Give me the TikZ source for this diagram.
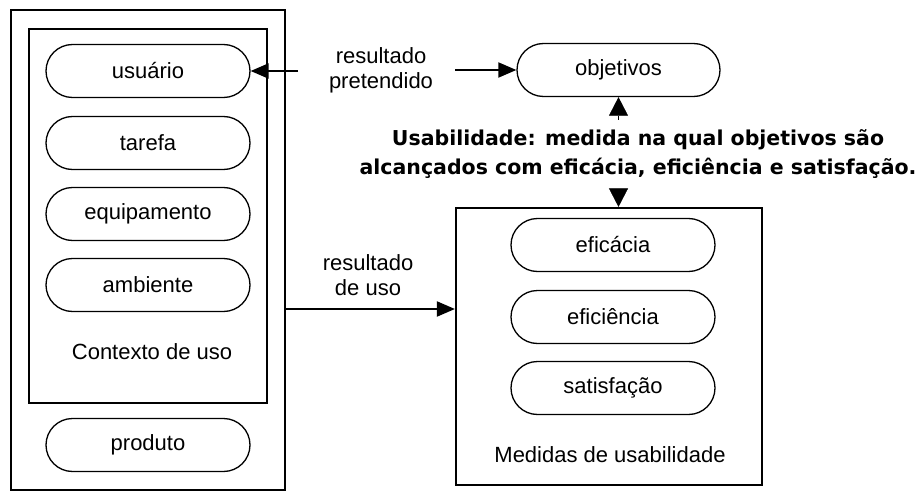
\documentclass[tikz,border=0pt]{standalone}
\usepackage{fontspec}
\setmainfont{Liberation Sans}
\newfontfamily\usabfont{DejaVu Sans}
\usetikzlibrary{arrows.meta}
\begin{document}
\begin{tikzpicture}[x=1pt,y=-1pt,
  box/.style={draw,line width=2.2pt,inner sep=0pt},
  pill/.style={draw,line width=1.3pt,rounded corners=26.5pt,minimum width=204pt,minimum height=53pt,inner sep=0pt,font=\fontsize{22}{25}\selectfont},
  lbl/.style={align=center,inner sep=0pt,font=\fontsize{22}{25}\selectfont},
  arr/.style={line width=2pt,-{Triangle[length=18pt,width=15pt]}},
  tri/.style={line width=0.5pt,-{Triangle[length=18.5pt,width=19pt]}}]
\useasboundingbox (0,0) rectangle (921,492);
% left boxes
\node[box,minimum width=274pt,minimum height=480pt] (outer) at (148,250) {};
\node[box,minimum width=238pt,minimum height=374pt] (inner) at (148,216) {};
\node[pill] (usu) at (148,71) {usuário};
\node[pill] (tar) at (148,143) {tarefa};
\node[pill] (equ) at (148,214) {equipamento};
\node[pill] (amb) at (148,285) {ambiente};
\node[lbl] (ctx) at (152,352) {Contexto de uso};
\node[pill] (pro) at (148,445) {produto};
% objetivos
\node[pill,minimum width=203pt] (obj) at (618.5,70) {objetivos};
\node[lbl] (rp) at (381,70) {resultado\\pretendido};
\coordinate (rpL) at (298,71);
\coordinate (rpR) at (455,70);
\draw[arr] (rpL) -- (usu.east |- rpL);
\draw[arr] (rpR) -- (obj.west);
% usability statement
\node[align=center,inner sep=0pt,minimum height=69pt,font=\usabfont\bfseries\fontsize{20.5}{29}\selectfont] (usab) at (638,154.5)
  {Usabilidade: medida na qual objetivos são\\alcançados com eficácia, eficiência e satisfação.};
% medidas
\node[box,minimum width=306pt,minimum height=277pt] (med) at (609,346.5) {};
\node[pill] (efa) at (613,245) {eficácia};
\node[pill] (efi) at (613,317) {eficiência};
\node[pill] (sat) at (613,388) {satisfação};
\node[lbl] (medl) at (610,455) {Medidas de usabilidade};
\draw[tri] (obj.south |- usab.north) -- (obj.south);
\draw[tri] (obj.south |- usab.south) -- (obj.south |- med.north);
% resultado de uso
\node[lbl] (ru) at (368,275.5) {resultado\\de uso};
\coordinate (ruy) at (370,309);
\draw[arr] (outer.east |- ruy) -- (med.west |- ruy);
\end{tikzpicture}
\end{document}
